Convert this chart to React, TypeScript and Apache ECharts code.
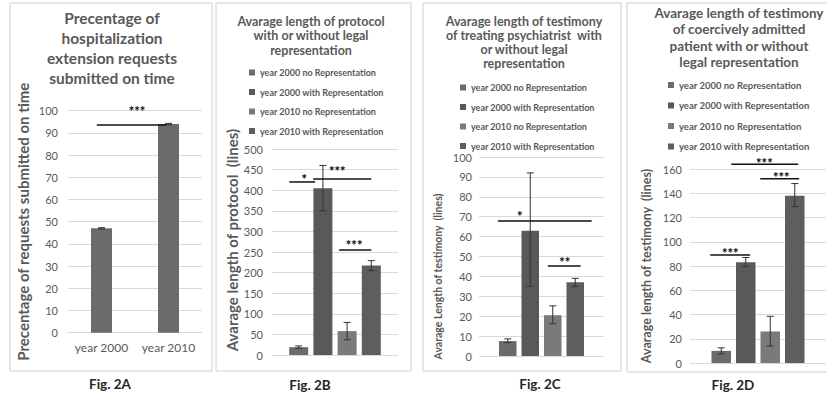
import React, { useEffect, useRef } from 'react';
import * as echarts from 'echarts';

const FONT = "Lato, 'Open Sans', sans-serif";
const TEXT_GRAY = '#595959';
const GRID_GRAY = '#d9d9d9';

// ---------- Fig. 2A ----------
const titleA = 'Precentage of\nhospitalization\nextension requests\nsubmitted on time';
const axisNameA = 'Precentage of requests submitted on time';
const categoriesA = ['year 2000', 'year 2010'];
const valuesA = [47, 94];
const errLowA = [46.7, 93.7];
const errHighA = [47.3, 94.3];
const sigA = [{ from: -0.07, to: 0.97, y: 93.6, lx: 0.53, ly: 101.5, text: '***' }];

// ---------- shared legend (2B-2D) ----------
const legendNames = [
  'year 2000 no Representation',
  'year 2000 with Representation',
  'year 2010 no Representation',
  'year 2010 with Representation',
];
const barPositions = [1, 2, 3, 4];
const barColors = ['#6b6b6b', '#595959', '#7a7a7a', '#5e5e5e'];

// ---------- Fig. 2B ----------
const titleB = 'Avarage length of protocol\nwith or without legal\nrepresentation';
const axisNameB = 'Avarage length of protocol  (lines)';
const valuesB = [19, 405, 58, 217];
const errLowB = [16, 350, 37, 205];
const errHighB = [22, 460, 79, 229];
const sigB = [
  { from: 0.61, to: 1.68, y: 420, lx: 1.23, ly: 436, text: '*' },
  { from: 1.6, to: 4.0, y: 427, lx: 2.59, ly: 456, text: '***' },
  { from: 2.67, to: 4.0, y: 255, lx: 3.29, ly: 277, text: '***' },
];

// ---------- Fig. 2C ----------
const titleC = 'Avarage length of testimony\nof treating psychiatrist  with\nor without legal\nrepresentation';
const axisNameC = 'Avarage Length of testimony  (lines)';
const valuesC = [7.5, 63, 20.5, 37];
const errLowC = [6.7, 35, 16.2, 35];
const errHighC = [8.6, 92, 25.2, 39];
const sigC = [
  { from: 0.56, to: 4.73, y: 67.8, lx: 1.53, ly: 72.4, text: '*' },
  { from: 2.78, to: 4.24, y: 45.2, lx: 3.53, ly: 49.2, text: '**' },
];

// ---------- Fig. 2D ----------
const titleD = 'Avarage length of testimony\nof coercively admitted\npatient with or without\nlegal representation';
const axisNameD = 'Avarage length of testimony  (lines)';
const valuesD = [10, 83, 26, 138];
const errLowD = [7.5, 79.5, 14, 129];
const errHighD = [12.5, 87, 38.5, 148];
const sigD = [
  { from: 0.55, to: 2.18, y: 89, lx: 1.37, ly: 94, text: '***' },
  { from: 1.41, to: 4.14, y: 164, lx: 2.76, ly: 168, text: '***' },
  { from: 2.59, to: 4.18, y: 152, lx: 3.45, ly: 157, text: '***' },
];

const captions = ['Fig. 2A', 'Fig. 2B', 'Fig. 2C', 'Fig. 2D'];

type Sig = { from: number; to: number; y: number; lx: number; ly: number; text: string };

const errRender = (params: any, api: any) => {
  const x = api.value(0);
  const top = api.coord([x, api.value(2)]);
  const bot = api.coord([x, api.value(1)]);
  const c = 3.5;
  const style = { stroke: '#333333', lineWidth: 1 };
  return {
    type: 'group',
    children: [
      { type: 'line', shape: { x1: top[0], y1: top[1], x2: bot[0], y2: bot[1] }, style },
      { type: 'line', shape: { x1: top[0] - c, y1: top[1], x2: top[0] + c, y2: top[1] }, style },
      { type: 'line', shape: { x1: bot[0] - c, y1: bot[1], x2: bot[0] + c, y2: bot[1] }, style },
    ],
  };
};

const makeSigRender = (specs: Sig[]) => (params: any, api: any) => {
  const s = specs[params.dataIndex];
  const a = api.coord([s.from, s.y]);
  const b = api.coord([s.to, s.y]);
  const t = api.coord([s.lx, s.ly]);
  return {
    type: 'group',
    children: [
      { type: 'line', shape: { x1: a[0], y1: a[1], x2: b[0], y2: b[1] }, style: { stroke: '#111111', lineWidth: 1.5 } },
      {
        type: 'text',
        x: t[0],
        y: t[1] + 4,
        style: { text: s.text, align: 'center', verticalAlign: 'middle', font: `900 13px ${FONT}`, fill: '#111111' },
      },
    ],
  };
};

const errSeries = (xAxisIndex: number, yAxisIndex: number, xs: number[], lo: number[], hi: number[]) => ({
  type: 'custom',
  name: 'err' + yAxisIndex,
  xAxisIndex,
  yAxisIndex,
  clip: false,
  z: 4,
  silent: true,
  encode: { x: 0, y: [1, 2] },
  data: xs.map((x, i) => [x, lo[i], hi[i]]),
  renderItem: errRender,
});

const sigSeries = (xAxisIndex: number, yAxisIndex: number, specs: Sig[]) => ({
  type: 'custom',
  name: 'sig' + yAxisIndex,
  xAxisIndex,
  yAxisIndex,
  clip: false,
  z: 5,
  silent: true,
  encode: { x: [0, 1, 3], y: [2, 4] },
  data: specs.map((s) => [s.from, s.to, s.y, s.lx, s.ly]),
  renderItem: makeSigRender(specs),
});

const yAxisBase = (
  gridIndex: number,
  max: number,
  interval: number,
  name: string,
  nameGap: number,
  nameSize: number,
  labelMargin: number,
  namePadding: number[] = [0, 0, 0, 0]
) => ({
  type: 'value',
  gridIndex,
  min: 0,
  max,
  interval,
  axisLine: { show: false },
  axisTick: { show: false },
  splitLine: { lineStyle: { color: GRID_GRAY, width: 1 } },
  axisLabel: { fontFamily: FONT, fontSize: 11, color: TEXT_GRAY, margin: labelMargin },
  name,
  nameLocation: 'middle',
  nameGap,
  nameTextStyle: { fontFamily: FONT, fontSize: nameSize, fontWeight: 'bold', color: TEXT_GRAY, padding: namePadding },
});

// grids in page pixels
const grids = [
  { left: 68, top: 110.7, width: 134, height: 222 },
  { left: 272, top: 149, width: 126, height: 206 },
  { left: 479, top: 157, width: 125, height: 199 },
  { left: 690, top: 169, width: 136, height: 194 },
];
const pitch = [0, 24.2, 22.5, 24.5];
const barWidths = [21, 19, 17.5, 19.5];

const clusterAxis = (g: number) => {
  const half = grids[g].width / pitch[g] / 2;
  return { type: 'value', gridIndex: g, min: 2.5 - half, max: 2.5 + half, show: false, splitLine: { show: false } };
};

const legendAt = (left: number, top: number, size: number) => ({
  orient: 'vertical',
  left,
  top,
  padding: 0,
  itemWidth: 6,
  itemHeight: 6,
  itemGap: 10.5,
  icon: 'rect',
  selectedMode: false,
  data: legendNames,
  textStyle: { fontFamily: FONT, fontSize: size, fontWeight: 'bold', color: TEXT_GRAY },
});

const titleAt = (text: string, left: number, top: number, size: number, lineHeight: number) => ({
  text,
  left,
  top,
  padding: 0,
  textAlign: 'center',
  textStyle: { fontFamily: FONT, fontSize: size, fontWeight: 'bold', color: TEXT_GRAY, lineHeight },
});

const captionAt = (text: string, left: number, top: number) => ({
  text,
  left,
  top,
  padding: 0,
  textAlign: 'center',
  textStyle: { fontFamily: FONT, fontSize: 13.5, fontWeight: 'bold', color: '#262626' },
});

const clusterBars = (g: number, values: number[]) =>
  values.map((v, i) => ({
    name: legendNames[i],
    type: 'bar',
    xAxisIndex: g + 1,
    yAxisIndex: g,
    stack: 'panel' + g,
    barWidth: barWidths[g],
    data: [[barPositions[i], v]],
    itemStyle: { color: barColors[i] },
  }));

export default function App() {
  const ref = useRef<HTMLDivElement>(null);
  useEffect(() => {
    if (!ref.current) return;
    const chart = echarts.init(ref.current, undefined, { renderer: 'svg' });
    const option: any = {
      animation: false,
      backgroundColor: '#ffffff',
      title: [
        titleAt(titleA, 112, 8, 15.5, 20),
        titleAt(titleB, 311, 14, 12.5, 14.5),
        titleAt(titleC, 524, 14, 12.5, 14),
        titleAt(titleD, 739, 5, 13.5, 16.3),
        captionAt(captions[0], 110, 377),
        captionAt(captions[1], 310, 378),
        captionAt(captions[2], 540, 377),
        captionAt(captions[3], 733, 378),
      ],
      legend: [legendAt(249, 68, 9), legendAt(460, 83, 9), legendAt(668, 80, 9.5)],
      grid: grids.map((g) => ({ ...g, containLabel: false })),
      xAxis: [
        {
          type: 'category',
          gridIndex: 0,
          data: categoriesA,
          axisLine: { lineStyle: { color: GRID_GRAY } },
          axisTick: { show: false },
          axisLabel: { fontFamily: FONT, fontSize: 12, color: TEXT_GRAY, margin: 9, interval: 0 },
        },
        { type: 'value', gridIndex: 0, min: -0.5, max: 1.5, show: false, splitLine: { show: false } },
        clusterAxis(1),
        clusterAxis(2),
        clusterAxis(3),
      ],
      yAxis: [
        yAxisBase(0, 100, 10, axisNameA, 38, 15, 10),
        yAxisBase(1, 500, 50, axisNameB, 33, 15, 9, [0, 0, 0, 24]),
        yAxisBase(2, 100, 10, axisNameC, 36, 10.5, 7, [0, 40, 0, 0]),
        yAxisBase(3, 160, 20, axisNameD, 37, 12.5, 8),
      ],
      graphic: [
        { type: 'rect', shape: { x: 10, y: 3, width: 202, height: 368 }, style: { fill: 'none', stroke: '#cfcfcf', lineWidth: 1 }, silent: true },
        { type: 'rect', shape: { x: 216, y: 3, width: 195, height: 368 }, style: { fill: 'none', stroke: '#cfcfcf', lineWidth: 1 }, silent: true },
        { type: 'rect', shape: { x: 423, y: 3, width: 198, height: 368 }, style: { fill: 'none', stroke: '#cfcfcf', lineWidth: 1 }, silent: true },
        { type: 'rect', shape: { x: 627, y: 3, width: 210, height: 369 }, style: { fill: 'none', stroke: '#cfcfcf', lineWidth: 1 }, silent: true },
      ],
      series: [
        {
          name: 'A',
          type: 'bar',
          xAxisIndex: 0,
          yAxisIndex: 0,
          barWidth: barWidths[0],
          data: valuesA,
          itemStyle: { color: '#6b6b6b' },
        },
        errSeries(1, 0, [0, 1], errLowA, errHighA),
        sigSeries(1, 0, sigA),
        ...clusterBars(1, valuesB),
        errSeries(2, 1, barPositions, errLowB, errHighB),
        sigSeries(2, 1, sigB),
        ...clusterBars(2, valuesC),
        errSeries(3, 2, barPositions, errLowC, errHighC),
        sigSeries(3, 2, sigC),
        ...clusterBars(3, valuesD),
        errSeries(4, 3, barPositions, errLowD, errHighD),
        sigSeries(4, 3, sigD),
      ],
    };
    chart.setOption(option);
    return () => chart.dispose();
  }, []);
  return (
    <div
      ref={ref}
      style={{ position: 'absolute', left: 0, top: 0, width: 827, height: 395, background: '#ffffff' }}
    />
  );
}
